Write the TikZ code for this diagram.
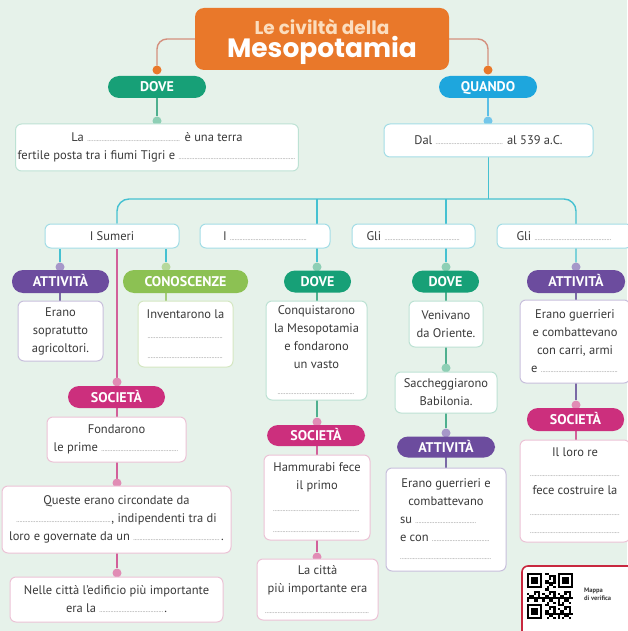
\documentclass[tikz,border=0pt]{standalone}
\usepackage{fontspec}
\setmainfont{PT Sans}
\newfontfamily\titlefont{Poppins}
\usetikzlibrary{calc}
\definecolor{bgc}{HTML}{E6F2EA}
\definecolor{txt}{HTML}{3A3A3A}
\definecolor{dotc}{HTML}{8A8A8A}
\definecolor{orangeT}{HTML}{E9782A}
\definecolor{peach}{HTML}{FBDDBE}
\definecolor{titleL}{HTML}{D4907E}
\definecolor{doveG}{HTML}{17A077}
\definecolor{quandoB}{HTML}{1EA6DD}
\definecolor{attP}{HTML}{6C4C9E}
\definecolor{conG}{HTML}{8CC153}
\definecolor{socM}{HTML}{CC2F7D}
\definecolor{greenL}{HTML}{4FB08F}
\definecolor{blueL}{HTML}{5BBFE6}
\definecolor{cyanL}{HTML}{45C1D1}
\definecolor{pinkL}{HTML}{D2609A}
\definecolor{purpleL}{HTML}{7A6AA6}
\definecolor{lgreenL}{HTML}{A3CC7A}
\definecolor{dGreen}{HTML}{8ECFB5}
\definecolor{dBlue}{HTML}{73C6EA}
\definecolor{dPurple}{HTML}{A697C9}
\definecolor{dLgreen}{HTML}{B7D89B}
\definecolor{dPink}{HTML}{E18CB5}
\definecolor{bTeal}{HTML}{BDE2D4}
\definecolor{bCyan}{HTML}{A3DDE6}
\definecolor{bPurple}{HTML}{C8C0DC}
\definecolor{bLgreen}{HTML}{D5E7C2}
\definecolor{bPink}{HTML}{ECC3D6}
\definecolor{qrRed}{HTML}{C8283F}
\newcommand\bodyfont{\fontsize{12.5}{18}\selectfont}
\newcommand\pillfont{\fontsize{14}{14}\selectfont\bfseries}
\newcommand\dline[1]{\hbox to #1{\color{dotc}\fontsize{7}{7}\selectfont\leaders\hbox to 1.6pt{\hss.\hss}\hfill}}
\pgfdeclarelayer{back}
\pgfdeclarelayer{lines}
\pgfsetlayers{back,lines,main}
\begin{document}
\begin{tikzpicture}[x=1pt,y=-1pt,
  pill/.style={fill=#1, rounded corners=11pt, minimum height=22pt, inner sep=0pt, text=white, font=\pillfont, text height=10pt, text depth=0pt},
  box/.style={draw=#1, fill=white, line width=1pt, rounded corners=6pt, inner sep=2pt, align=center, font=\bodyfont, text=txt},
  dotn/.style={circle, fill=#1, minimum size=9pt, inner sep=0pt},
  conn/.style={draw=#1, line width=1.4pt}]
\begin{pgfonlayer}{back}
\fill[bgc] (0,0) rectangle (627,631);
\end{pgfonlayer}
\useasboundingbox (0,0) rectangle (627,631);

% title
\node[fill=orangeT, rounded corners=9pt, minimum width=254pt, minimum height=62pt, inner sep=0pt] (title) at (322,39) {};
\node[font={\titlefont\bfseries\fontsize{18.5}{19}\selectfont}, text=peach, inner sep=0pt, anchor=base, text depth=0pt] (titleA) at (322,34.5) {Le civiltà della};
\node[font={\titlefont\bfseries\fontsize{26.5}{27}\selectfont}, text=white, inner sep=0pt, anchor=base, text height=18pt] (titleB) at (322,58) {Mesopotamia};

% top pills
\node[pill=doveG, minimum width=98pt] (doveT) at (157,87) {DOVE};
\node[pill=quandoB, minimum width=98pt] (quando) at (488,87) {QUANDO};
\node[dotn=orangeT] (dT1) at (157,70) {};
\node[dotn=orangeT] (dT2) at (488,70) {};
\node[dotn=dGreen] (dDove) at (157,121) {};
\node[dotn=dBlue] (dQuando) at (488,121) {};

% top boxes
\node[box=bTeal, minimum width=274pt, minimum height=47pt] (laBox) at (157,147.5)
  {La \dline{94pt} è una terra\\fertile posta tra i fiumi Tigri e \dline{118pt}};
\node[box=bCyan, minimum width=209pt, minimum height=33pt] (dal) at (488.5,140.5)
  {Dal \dline{68pt} al 539 a.C.};

% headers
\node[box=bCyan, minimum width=134pt, minimum height=24pt] (hSumeri) at (112,236) {I Sumeri};
\node[box=bCyan, minimum width=130pt, minimum height=24pt] (hI) at (265,236) {I \dline{77pt}};
\node[box=bCyan, minimum width=123pt, minimum height=24pt] (hGli1) at (413.5,236) {Gli \dline{76pt}};
\node[box=bCyan, minimum width=135pt, minimum height=24pt] (hGli2) at (564.5,236) {Gli \dline{78pt}};

% column 1
\node[dotn=dPurple] (dAtt1) at (60,267) {};
\node[dotn=dLgreen] (dCon) at (166,267) {};
\node[pill=attP, minimum width=97pt, minimum height=23pt] (att1) at (60.5,281.5) {ATTIVITÀ};
\node[pill=conG, minimum width=125pt, minimum height=23pt] (con) at (185.5,281.5) {CONOSCENZE};
\node[box=bPurple, minimum width=85pt, minimum height=60pt] (erano1) at (60.5,331)
  {Erano\\sopratutto\\agricoltori.};
\node[box=bLgreen, minimum width=95pt, minimum height=66pt] (invent) at (185.5,334)
  {Inventarono la\\[2pt]\dline{76pt}\\[2pt]\dline{76pt}};
\node[dotn=dPink] (dSoc1) at (117,382) {};
\node[pill=socM, minimum width=97pt] (soc1) at (116.5,397) {SOCIETÀ};
\node[box=bPink, minimum width=139pt, minimum height=45pt] (fond) at (116.5,439.5)
  {Fondarono\\le prime \dline{78pt}};
\node[dotn=dPink] (dF2) at (117,483) {};
\node[box=bPink, minimum width=229pt, minimum height=67pt] (queste) at (116.5,519.5)
  {Queste erano circondate da\\\dline{95pt}, indipendenti tra di\\loro e governate da un \dline{88pt}.};
\node[dotn=dPink] (dF3) at (117,573) {};
\node[box=bPink, minimum width=213pt, minimum height=45pt] (nelle) at (116.5,599.5)
  {Nelle città l’edificio più importante\\era la \dline{65pt}.};

% column 2
\node[dotn=dGreen] (dDove2) at (317,267) {};
\node[pill=doveG, minimum width=67pt] (dove2) at (317.5,281.5) {DOVE};
\node[box=bTeal, minimum width=101pt, minimum height=99pt] (conq) at (316.5,350.5)
  {Conquistarono\\la Mesopotamia\\e fondarono\\un vasto\\[8pt]\dline{78pt}};
\node[dotn=dPink] (dSoc2) at (317,422) {};
\node[pill=socM, minimum width=98pt, minimum height=21pt] (soc2) at (316,435.5) {SOCIETÀ};
\node[box=bPink, minimum width=106pt, minimum height=85pt] (hamm) at (317,497.5)
  {Hammurabi fece\\il primo\\[4pt]\dline{88pt}\\[3pt]\dline{88pt}};
\node[dotn=dPink] (dLa) at (317,557) {};
\node[box=bPink, minimum width=121pt, minimum height=61pt] (lacitta) at (317.5,589.5)
  {La città\\più importante era\\[3pt]\dline{105pt}};

% column 3
\node[dotn=dGreen] (dDove3) at (446,267) {};
\node[pill=doveG, minimum width=67pt] (dove3) at (445.5,281.5) {DOVE};
\node[box=bTeal, minimum width=74pt, minimum height=46pt] (venivano) at (446,324)
  {Venivano\\da Oriente.};
\node[dotn=dGreen] (dSac) at (446,368) {};
\node[box=bTeal, minimum width=102pt, minimum height=41pt] (sacch) at (446,392.5)
  {Saccheggiarono\\Babilonia.};
\node[dotn=dPurple] (dAtt3) at (446,433) {};
\node[pill=attP, minimum width=98pt, minimum height=21pt] (att3) at (446,447) {ATTIVITÀ};
\node[box=bPurple, minimum width=120pt, minimum height=103pt, align=left] (eranoG) at (446,519.5)
  {\makebox[92pt][c]{Erano guerrieri e}\\\makebox[92pt][c]{combattevano}\\su \dline{62pt}\\e con \dline{58pt}\\\dline{92pt}};

% column 4
\node[dotn=dPurple] (dAtt4) at (576,267) {};
\node[pill=attP, minimum width=98pt, minimum height=23pt] (att4) at (576,281.5) {ATTIVITÀ};
\node[box=bPurple, minimum width=110pt, minimum height=83pt] (eranoG4) at (575,341.5)
  {Erano guerrieri\\e combattevano\\con carri, armi\\e \dline{78pt}};
\node[dotn=dPink] (dSoc4) at (576,405) {};
\node[pill=socM, minimum width=97pt, minimum height=23pt] (soc4) at (575.5,419.5) {SOCIETÀ};
\node[box=bPink, minimum width=110pt, minimum height=102pt] (ilLoro) at (575,491)
  {Il loro re\\[2pt]\dline{90pt}\\fece costruire la\\[3pt]\dline{90pt}\\\dline{90pt}};

% QR block
\node[draw=qrRed, line width=1.6pt, fill=white, rounded corners=6pt, minimum width=124pt, minimum height=72pt, inner sep=0pt] (qrBox) at (584,602) {};
\node[font={\fontsize{6.5}{8}\selectfont\bfseries}, text=txt, align=left, anchor=west, inner sep=0pt] (qrText) at (584,594) {Mappa\\di verifica};
\begin{scope}[shift={(527,573)}]
  \foreach \px/\py in {0/0,14/0,0/14}{
    \fill[black] (\px*2.2,\py*2.2) rectangle ++(15.4,15.4);
    \fill[white] (\px*2.2+2.2,\py*2.2+2.2) rectangle ++(11,11);
    \fill[black] (\px*2.2+4.4,\py*2.2+4.4) rectangle ++(6.6,6.6);
  }
  \foreach \i in {0,...,20}{
    \foreach \j in {0,...,20}{
      \pgfmathtruncatemacro{\inf}{((\i<8) && (\j<8)) || ((\i>12) && (\j<8)) || ((\i<8) && (\j>12)) ? 1 : 0}
      \pgfmathtruncatemacro{\v}{mod(\i*\i*7 + \j*\j*3 + \i*\j*5 + \i + 2*\j, 7) < 3 ? 1 : 0}
      \ifnum\inf=0 \ifnum\v=1 \fill[black] (\i*2.2,\j*2.2) rectangle ++(2.2,2.2); \fi\fi
    }
  }
\end{scope}

% connectors
\begin{pgfonlayer}{lines}
\draw[conn=titleL, rounded corners=10pt] (title.west) -| (dT1);
\draw[conn=titleL, rounded corners=10pt] (title.east) -| (dT2);
\draw[conn=greenL] (doveT) -- (dDove);
\draw[conn=blueL] (quando) -- (dQuando);
\coordinate (jn) at (dal.south |- 0,199);
\draw[conn=cyanL] (dal.south) -- (jn);
\draw[conn=cyanL, rounded corners=12pt] (dSoc1 |- hSumeri.north) |- (jn) -| (dAtt4);
\draw[conn=cyanL] (dDove2 |- jn) -- (dDove2);
\draw[conn=cyanL] (dDove3 |- jn) -- (dDove3);
\draw[conn=cyanL] (dAtt1 |- hSumeri.south) -- (dAtt1);
\draw[conn=cyanL] (dCon |- hSumeri.south) -- (dCon);
\draw[conn=pinkL] (dSoc1 |- hSumeri.south) -- (dF3);
\draw[conn=purpleL] (dAtt1) -- (dAtt1 |- erano1.north);
\draw[conn=lgreenL] (dCon) -- (dCon |- invent.north);
\draw[conn=greenL] (dDove2) -- (dSoc2);
\draw[conn=pinkL] (dSoc2) -- (dLa);
\draw[conn=greenL] (dDove3) -- (dAtt3);
\draw[conn=purpleL] (dAtt3) -- (dAtt3 |- eranoG.north);
\draw[conn=purpleL] (dAtt4) -- (dSoc4);
\draw[conn=pinkL] (dSoc4) -- (dSoc4 |- ilLoro.north);
\end{pgfonlayer}
\end{tikzpicture}
\end{document}
